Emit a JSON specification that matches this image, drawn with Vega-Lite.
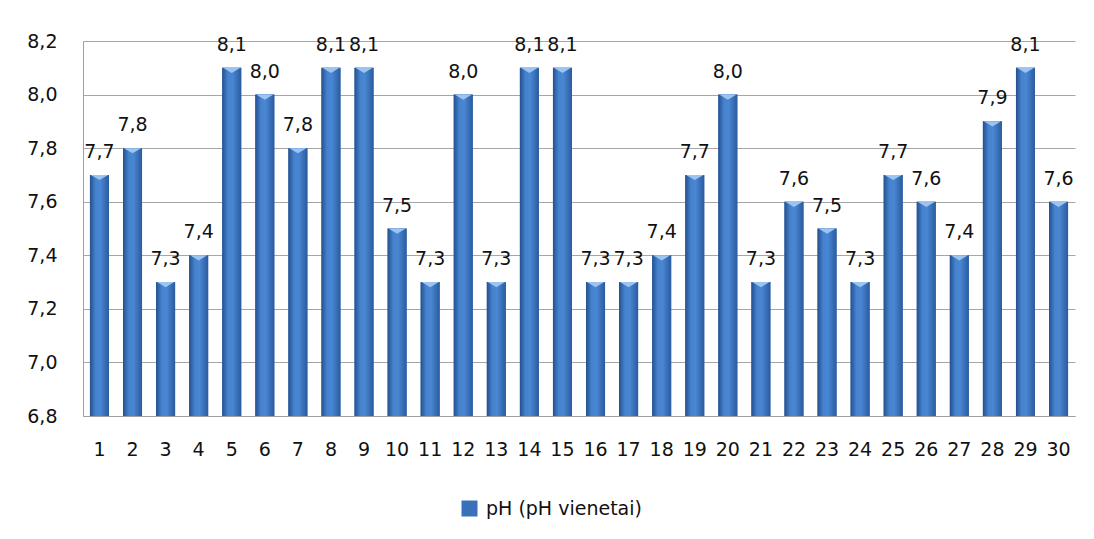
{
  "$schema": "https://vega.github.io/schema/vega-lite/v6.json",
  "width": 992,
  "height": 375,
  "autosize": {"type": "none"},
  "padding": {"left": 83, "top": 41, "right": 19, "bottom": 123},
  "background": "white",
  "data": {
    "values": [
      {"nr": "1", "ph": 7.7, "series": "pH (pH vienetai)"},
      {"nr": "2", "ph": 7.8, "series": "pH (pH vienetai)"},
      {"nr": "3", "ph": 7.3, "series": "pH (pH vienetai)"},
      {"nr": "4", "ph": 7.4, "series": "pH (pH vienetai)"},
      {"nr": "5", "ph": 8.1, "series": "pH (pH vienetai)"},
      {"nr": "6", "ph": 8.0, "series": "pH (pH vienetai)"},
      {"nr": "7", "ph": 7.8, "series": "pH (pH vienetai)"},
      {"nr": "8", "ph": 8.1, "series": "pH (pH vienetai)"},
      {"nr": "9", "ph": 8.1, "series": "pH (pH vienetai)"},
      {"nr": "10", "ph": 7.5, "series": "pH (pH vienetai)"},
      {"nr": "11", "ph": 7.3, "series": "pH (pH vienetai)"},
      {"nr": "12", "ph": 8.0, "series": "pH (pH vienetai)"},
      {"nr": "13", "ph": 7.3, "series": "pH (pH vienetai)"},
      {"nr": "14", "ph": 8.1, "series": "pH (pH vienetai)"},
      {"nr": "15", "ph": 8.1, "series": "pH (pH vienetai)"},
      {"nr": "16", "ph": 7.3, "series": "pH (pH vienetai)"},
      {"nr": "17", "ph": 7.3, "series": "pH (pH vienetai)"},
      {"nr": "18", "ph": 7.4, "series": "pH (pH vienetai)"},
      {"nr": "19", "ph": 7.7, "series": "pH (pH vienetai)"},
      {"nr": "20", "ph": 8.0, "series": "pH (pH vienetai)"},
      {"nr": "21", "ph": 7.3, "series": "pH (pH vienetai)"},
      {"nr": "22", "ph": 7.6, "series": "pH (pH vienetai)"},
      {"nr": "23", "ph": 7.5, "series": "pH (pH vienetai)"},
      {"nr": "24", "ph": 7.3, "series": "pH (pH vienetai)"},
      {"nr": "25", "ph": 7.7, "series": "pH (pH vienetai)"},
      {"nr": "26", "ph": 7.6, "series": "pH (pH vienetai)"},
      {"nr": "27", "ph": 7.4, "series": "pH (pH vienetai)"},
      {"nr": "28", "ph": 7.9, "series": "pH (pH vienetai)"},
      {"nr": "29", "ph": 8.1, "series": "pH (pH vienetai)"},
      {"nr": "30", "ph": 7.6, "series": "pH (pH vienetai)"}
    ]
  },
  "encoding": {
    "x": {
      "field": "nr",
      "type": "ordinal",
      "sort": null,
      "scale": {"paddingInner": 0.425, "paddingOuter": 0.21},
      "axis": {
        "title": null,
        "labelAngle": 0,
        "ticks": false,
        "domain": true,
        "domainColor": "#a0a0a0",
        "domainWidth": 1,
        "labelPadding": 24,
        "grid": false
      }
    },
    "y": {
      "field": "ph",
      "type": "quantitative",
      "scale": {"domain": [6.8, 8.2], "zero": false, "nice": false},
      "axis": {
        "title": null,
        "values": [6.8, 7.0, 7.2, 7.4, 7.6, 7.8, 8.0, 8.2],
        "format": ".1f",
        "ticks": false,
        "labelPadding": 26,
        "domain": true,
        "domainColor": "#a0a0a0",
        "grid": true,
        "gridColor": "#a6a6a6",
        "gridWidth": 1
      }
    }
  },
  "layer": [
    {
      "mark": {"type": "bar", "strokeWidth": 0},
      "encoding": {
        "y2": {"datum": 6.8},
        "fill": {
          "field": "series",
          "type": "nominal",
          "scale": {"range": ["#3a70ba"]},
          "legend": {
            "orient": "none",
            "legendX": 377,
            "legendY": 458,
            "title": null,
            "symbolType": "square",
            "symbolSize": 256,
            "symbolStrokeWidth": 0,
            "labelOffset": 7,
            "padding": 0
          }
        }
      }
    },
    {
      "mark": {
        "type": "bar",
        "strokeWidth": 0,
        "fill": {
          "gradient": "linear",
          "x1": 0, "y1": 0, "x2": 1, "y2": 0,
          "stops": [
            {"offset": 0, "color": "#24508e"},
            {"offset": 0.3, "color": "#4683cf"},
            {"offset": 0.55, "color": "#4a86d2"},
            {"offset": 1, "color": "#2a5b9e"}
          ]
        }
      },
      "encoding": {
        "y2": {"datum": 6.8}
      }
    },
    {
      "mark": {
        "type": "point",
        "shape": "M-1,0L1,0L0,0.6Z",
        "filled": true,
        "fill": "#9cc4f0",
        "size": 300,
        "opacity": 1,
        "strokeWidth": 0
      },
      "encoding": {}
    },
    {
      "mark": {
        "type": "text",
        "dy": -17,
        "baseline": "alphabetic",
        "font": "DejaVu Sans",
        "fontSize": 19,
        "color": "#111111"
      },
      "encoding": {
        "text": {"field": "ph", "type": "quantitative", "format": ".1f"}
      }
    }
  ],
  "config": {
    "locale": {
      "number": {
        "decimal": ",",
        "thousands": " ",
        "grouping": [3],
        "currency": ["", " €"]
      }
    },
    "view": {"stroke": null},
    "axis": {
      "labelFont": "DejaVu Sans",
      "labelFontSize": 19,
      "labelColor": "#111111"
    },
    "legend": {
      "labelFont": "DejaVu Sans",
      "labelFontSize": 19,
      "labelColor": "#111111"
    }
  }
}
